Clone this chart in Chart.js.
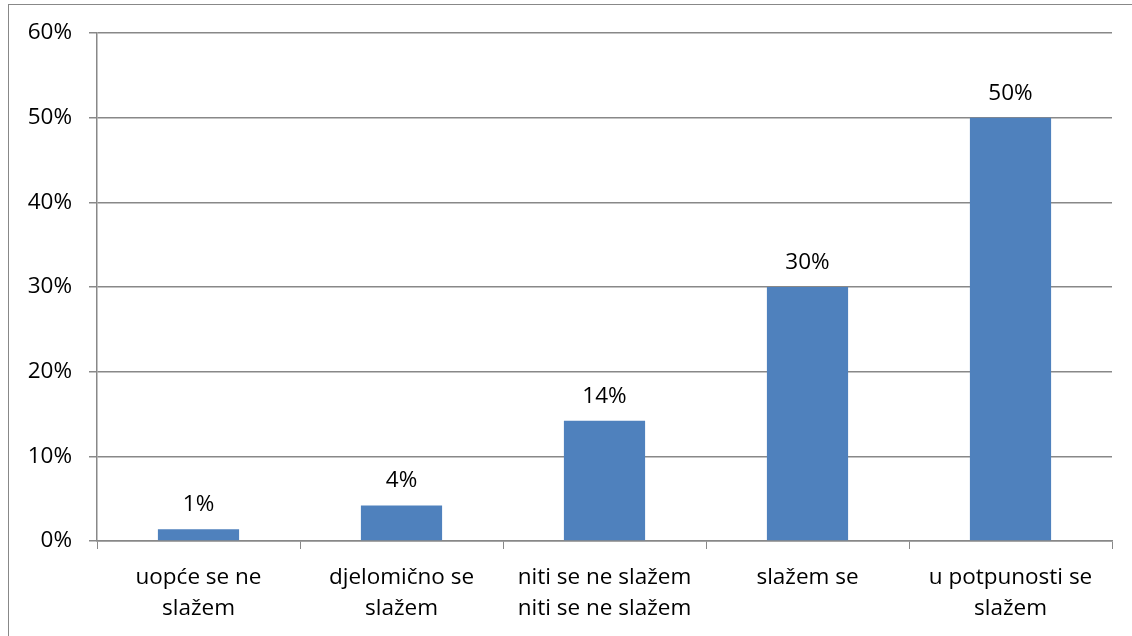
<!DOCTYPE html>
<html lang="hr">
<head>
<meta charset="utf-8">
<title>Slaganje</title>
<script src="https://cdn.jsdelivr.net/npm/chart.js@4.4.0/dist/chart.umd.min.js"></script>
<style>
	html, body { margin: 0; padding: 0; background: #fff; }
	#wrap { width: 1132px; height: 636px; position: relative; }
</style>
</head>
<body>
<div id="wrap"><canvas id="chart"></canvas></div>
<script>
const categories = [
	["uopće se ne", "slažem"],
	["djelomično se", "slažem"],
	["niti se ne slažem", "niti se ne slažem"],
	["slažem se"],
	["u potpunosti se", "slažem"]
];
const values = [1.4, 4.2, 14.2, 30, 50];
const yTicks = [0, 10, 20, 30, 40, 50, 60];

const FONT = '"Open Sans", sans-serif';
const GRID = '#888888';

// outer frame like the spreadsheet chart area
const framePlugin = {
	id: 'frame',
	beforeDraw(chart) {
		const ctx = chart.ctx;
		ctx.save();
		ctx.strokeStyle = GRID;
		ctx.lineWidth = 1;
		ctx.strokeRect(8.5, 4.5, chart.width + 10, chart.height + 10);
		ctx.restore();
	}
};

// value labels above the bars
const labelPlugin = {
	id: 'valueLabels',
	afterDatasetsDraw(chart) {
		const ctx = chart.ctx;
		const meta = chart.getDatasetMeta(0);
		ctx.save();
		ctx.font = '22.5px ' + FONT;
		ctx.fillStyle = '#000';
		ctx.textAlign = 'center';
		ctx.textBaseline = 'alphabetic';
		meta.data.forEach(function (bar, i) {
			ctx.fillText(Math.round(values[i]) + '%', bar.x, bar.y - 18);
		});
		ctx.restore();
	}
};

new Chart(document.getElementById('chart'), {
	type: 'bar',
	data: {
		labels: categories,
		datasets: [{
			data: values,
			backgroundColor: '#4F81BD',
			barPercentage: 0.4,
			categoryPercentage: 1.0
		}]
	},
	options: {
		responsive: true,
		maintainAspectRatio: false,
		animation: false,
		events: [],
		layout: { padding: { top: 33, right: 20, left: 0, bottom: 0 } },
		plugins: {
			legend: { display: false },
			tooltip: { enabled: false }
		},
		scales: {
			x: {
				grid: {
					drawOnChartArea: false,
					drawTicks: true,
					tickLength: 8,
					color: GRID,
					offset: true
				},
				border: { color: GRID, width: 1.5 },
				ticks: {
					color: '#000',
					padding: 13,
					maxRotation: 0,
					font: { family: FONT, size: 22.5, lineHeight: 1.37 }
				},
				afterFit(scale) { scale.height = 95; }
			},
			y: {
				min: 0,
				max: 60,
				afterBuildTicks(scale) {
					scale.ticks = yTicks.map(function (v) { return { value: v }; });
				},
				grid: {
					color: GRID,
					lineWidth: 1.5,
					tickLength: 8
				},
				border: { color: GRID, width: 1.5 },
				ticks: {
					color: '#000',
					padding: 17,
					font: { family: FONT, size: 22.5 },
					callback: function (v) { return v + '%'; }
				},
				afterFit(scale) { scale.width = 97; }
			}
		}
	},
	plugins: [framePlugin, labelPlugin]
});
</script>
</body>
</html>
